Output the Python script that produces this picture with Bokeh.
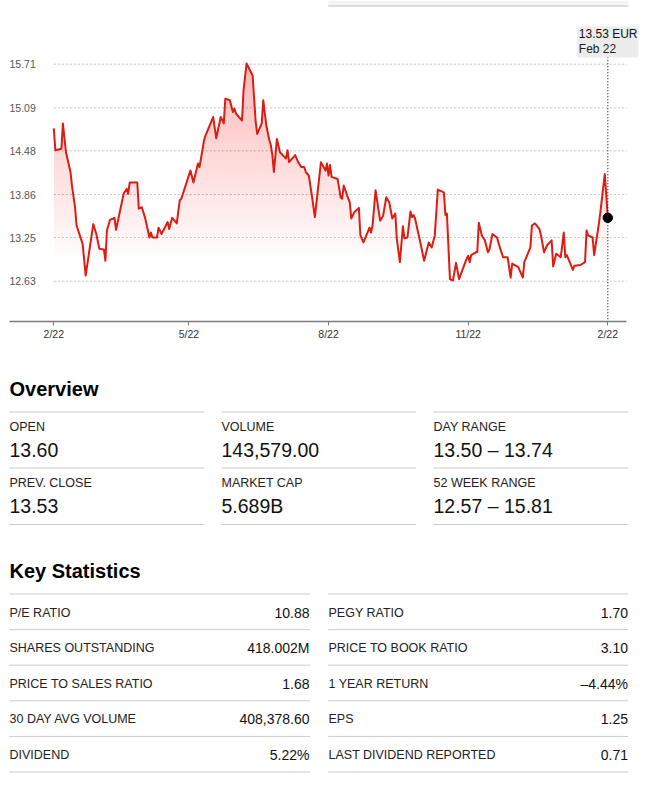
import numpy as np
import pandas as pd
from bokeh.plotting import figure
from bokeh.models import Range1d, FixedTicker
from bokeh.layouts import column
from bokeh.embed import file_html
from bokeh.resources import INLINE
from bokeh.core.properties import value

# ---------------- data ----------------
dates = [
    "2022-02-22", "2022-02-23", "2022-02-27", "2022-02-28", "2022-03-02", "2022-03-05", "2022-03-06", "2022-03-08", "2022-03-09", "2022-03-13",
    "2022-03-15", "2022-03-20", "2022-03-22", "2022-03-24", "2022-03-27", "2022-03-28", "2022-03-29", "2022-03-31", "2022-04-03", "2022-04-04",
    "2022-04-09", "2022-04-11", "2022-04-12", "2022-04-13", "2022-04-18", "2022-04-19", "2022-04-21", "2022-04-23", "2022-04-26", "2022-04-27",
    "2022-04-28", "2022-05-01", "2022-05-02", "2022-05-04", "2022-05-08", "2022-05-09", "2022-05-11", "2022-05-14", "2022-05-16", "2022-05-17",
    "2022-05-23", "2022-05-25", "2022-05-28", "2022-05-29", "2022-06-01", "2022-06-02", "2022-06-07", "2022-06-09", "2022-06-12", "2022-06-14",
    "2022-06-15", "2022-06-18", "2022-06-20", "2022-06-21", "2022-06-22", "2022-06-26", "2022-06-27", "2022-06-29", "2022-07-03", "2022-07-05",
    "2022-07-06", "2022-07-09", "2022-07-10", "2022-07-12", "2022-07-14", "2022-07-15", "2022-07-16", "2022-07-17", "2022-07-19", "2022-07-21",
    "2022-07-25", "2022-07-26", "2022-07-27", "2022-07-31", "2022-08-02", "2022-08-04", "2022-08-06", "2022-08-07", "2022-08-09", "2022-08-11",
    "2022-08-13", "2022-08-17", "2022-08-20", "2022-08-21", "2022-08-22", "2022-08-23", "2022-08-24", "2022-08-28", "2022-08-30", "2022-08-31",
    "2022-09-01", "2022-09-04", "2022-09-05", "2022-09-06", "2022-09-08", "2022-09-11", "2022-09-12", "2022-09-14", "2022-09-18", "2022-09-19",
    "2022-09-20", "2022-09-22", "2022-09-25", "2022-09-27", "2022-09-29", "2022-10-01", "2022-10-03", "2022-10-05", "2022-10-06", "2022-10-08",
    "2022-10-10", "2022-10-11", "2022-10-13", "2022-10-15", "2022-10-16", "2022-10-17", "2022-10-18", "2022-10-21", "2022-10-24", "2022-10-27",
    "2022-10-29", "2022-10-31", "2022-11-02", "2022-11-06", "2022-11-07", "2022-11-08", "2022-11-10", "2022-11-12", "2022-11-14", "2022-11-16",
    "2022-11-21", "2022-11-22", "2022-11-23", "2022-11-24", "2022-11-27", "2022-11-28", "2022-11-29", "2022-12-01", "2022-12-03", "2022-12-05",
    "2022-12-06", "2022-12-08", "2022-12-11", "2022-12-13", "2022-12-15", "2022-12-18", "2022-12-20", "2022-12-21", "2022-12-25", "2022-12-28",
    "2022-12-29", "2023-01-02", "2023-01-03", "2023-01-05", "2023-01-08", "2023-01-09", "2023-01-11", "2023-01-13", "2023-01-16", "2023-01-17",
    "2023-01-19", "2023-01-22", "2023-01-24", "2023-01-25", "2023-01-26", "2023-01-30", "2023-01-31", "2023-02-04", "2023-02-07", "2023-02-08",
    "2023-02-09", "2023-02-12", "2023-02-13", "2023-02-16", "2023-02-17", "2023-02-20", "2023-02-22",
]
prices = [
    14.80, 14.49, 14.51, 14.87, 14.46, 14.18, 13.98, 13.68, 13.42, 13.16,
    12.71, 13.44, 13.30, 13.09, 13.08, 12.92, 13.35, 13.50, 13.53, 13.36,
    13.87, 13.94, 13.87, 14.03, 14.03, 13.66, 13.68, 13.54, 13.25, 13.32,
    13.25, 13.25, 13.39, 13.30, 13.47, 13.37, 13.53, 13.45, 13.78, 13.80,
    14.20, 14.03, 14.30, 14.25, 14.63, 14.70, 14.96, 14.66, 14.96, 14.87,
    15.22, 15.20, 15.03, 15.08, 15.01, 14.91, 15.34, 15.72, 15.55, 14.89,
    14.72, 14.87, 15.20, 14.84, 14.63, 14.56, 14.42, 14.18, 14.65, 14.46,
    14.37, 14.49, 14.32, 14.42, 14.32, 14.25, 14.25, 14.18, 14.13, 13.85,
    13.54, 14.32, 14.20, 14.30, 14.13, 14.28, 14.11, 14.08, 13.82, 13.80,
    13.99, 13.80, 13.75, 13.52, 13.61, 13.67, 13.28, 13.18, 13.39, 13.32,
    13.42, 13.92, 13.49, 13.56, 13.82, 13.75, 13.52, 13.59, 13.23, 12.90,
    13.41, 13.24, 13.25, 13.62, 13.54, 13.57, 13.52, 13.23, 12.92, 13.18,
    13.11, 13.28, 13.93, 13.89, 13.57, 13.59, 12.66, 12.64, 12.89, 12.66,
    12.95, 12.99, 12.90, 13.00, 13.04, 13.04, 13.46, 13.28, 13.21, 13.04,
    13.08, 13.30, 13.25, 13.10, 12.97, 12.97, 12.68, 12.88, 12.83, 12.68,
    12.90, 13.11, 13.42, 13.45, 13.37, 13.28, 13.04, 13.14, 13.21, 12.84,
    13.02, 12.97, 13.32, 12.97, 13.00, 12.79, 12.85, 12.86, 12.90, 13.35,
    13.28, 13.25, 13.00, 13.43, 13.59, 14.15, 13.53,
]
y_ticks = [15.71, 15.09, 14.48, 13.86, 13.25, 12.63]
y_tick_labels = ["15.71", "15.09", "14.48", "13.86", "13.25", "12.63"]
x_tick_dates = ["2022-02-22", "2022-05-22", "2022-08-22", "2022-11-22", "2023-02-22"]
x_tick_labels = ["2/22", "5/22", "8/22", "11/22", "2/22"]
tip_price = "13.53 EUR"
tip_date = "Feb 22"

overview_labels = ["OPEN", "VOLUME", "DAY RANGE", "PREV. CLOSE", "MARKET CAP", "52 WEEK RANGE"]
overview_values = ["13.60", "143,579.00", "13.50 \u2013 13.74", "13.53", "5.689B", "12.57 \u2013 15.81"]

stats_left_labels = ["P/E RATIO", "SHARES OUTSTANDING", "PRICE TO SALES RATIO", "30 DAY AVG VOLUME", "DIVIDEND"]
stats_left_values = ["10.88", "418.002M", "1.68", "408,378.60", "5.22%"]
stats_right_labels = ["PEGY RATIO", "PRICE TO BOOK RATIO", "1 YEAR RETURN", "EPS", "LAST DIVIDEND REPORTED"]
stats_right_values = ["1.70", "3.10", "\u20134.44%", "1.25", "0.71"]

# ---------------- helpers ----------------
FONT = value("Liberation Sans")
W = 666
H1 = 350
FRAME_BOTTOM = 321

def to_ms(strs):
    return pd.to_datetime(strs).values.astype("datetime64[ms]").astype("int64").astype(float)

xs = to_ms(dates)
ys = np.array(prices)
tick_ms = to_ms(x_tick_dates)

# horizontal scale: first point at px 53.3, last at px 607.3
ppx = (607.3 - 53.3) / (xs[-1] - xs[0])
x_start = xs[0] - 53.3 / ppx
x_end = xs[0] + (W - 53.3) / ppx
# vertical scale: 15.71 at px 63.7, 12.63 at px 280.7
k = (280.7 - 63.7) / (y_ticks[0] - y_ticks[-1])
y_end = y_ticks[0] + 63.7 / k
y_start = y_end - FRAME_BOTTOM / k

def px_x(px):
    return x_start + px / ppx

def px_y(py):
    return y_end - py / k

# ---------------- chart ----------------
p = figure(width=W, height=H1, x_axis_type="datetime",
           x_range=Range1d(x_start, x_end), y_range=Range1d(y_start, y_end),
           y_axis_location=None, output_backend="svg", toolbar_location=None,
           min_border_left=0, min_border_right=0, min_border_top=0, min_border_bottom=H1 - FRAME_BOTTOM)
p.outline_line_color = None
p.xgrid.visible = False
p.ygrid.visible = False
p.background_fill_color = "white"
p.border_fill_color = "white"

# top clipped panel
p.quad(left=[px_x(327.7)], right=[px_x(627.7)], top=[px_y(0)], bottom=[px_y(5.5)],
       fill_color="#f5f5f5", line_color=None)
p.segment(x0=[px_x(327.7)], y0=[px_y(5.5)], x1=[px_x(627.7)], y1=[px_y(5.5)],
          line_color="#d2d2d2", line_width=1.5)

# grid lines
p.segment(x0=[xs[0]] * len(y_ticks), y0=y_ticks, x1=[px_x(626)] * len(y_ticks), y1=y_ticks,
          line_color="#c4c4c4", line_width=1, line_dash="2 2")
p.text(x=[px_x(9)] * len(y_ticks), y=y_ticks, text=y_tick_labels, text_font=FONT,
       text_font_size="10.5px", text_color="#555555", text_align="left", text_baseline="middle")

# gradient-like area under the line
levels = np.arange(12.9, ys.max() + 0.01, 0.04)
alpha_each = 1 - (1 - 0.24) ** (1.0 / len(levels))
for lv in levels:
    p.varea(x=xs, y1=np.minimum(ys, lv), y2=ys, fill_color="#dc1914", fill_alpha=alpha_each)

p.line(xs, ys, line_color="#dd1c12", line_width=2, line_join="round")

# crosshair + marker + tooltip
p.segment(x0=[xs[-1]], y0=[px_y(56.7)], x1=[xs[-1]], y1=[y_start],
          line_color="#222222", line_width=1.2, line_dash="1 2")
p.scatter(x=[xs[-1]], y=[ys[-1]], size=9.5, color="black")
p.rect(x=[xs[-1]], y=[px_y(41.5)], width=61, height=31, width_units="screen",
       height_units="screen", fill_color="#ececec", line_color=None)
p.text(x=[xs[-1]], y=[px_y(33.8)], text=[tip_price], x_offset=-29, text_font=FONT,
       text_font_size="12px", text_color="#111111", text_align="left", text_baseline="middle")
p.text(x=[xs[-1]], y=[px_y(48.8)], text=[tip_date], x_offset=-29, text_font=FONT,
       text_font_size="12px", text_color="#222222", text_align="left", text_baseline="middle")

# x axis
ax = p.xaxis[0]
ax.ticker = FixedTicker(ticks=list(tick_ms))
ax.major_label_overrides = {float(t): lab for t, lab in zip(tick_ms, x_tick_labels)}
ax.bounds = (px_x(9), px_x(626))
ax.axis_line_color = "#7a7a7a"
ax.axis_line_width = 1.5
ax.major_tick_line_color = "#7a7a7a"
ax.major_tick_out = 4
ax.major_tick_in = 0
ax.minor_tick_out = 0
ax.minor_tick_in = 0
ax.major_label_standoff = 2
ax.major_label_text_font = "Liberation Sans"
ax.major_label_text_font_size = "10.5px"
ax.major_label_text_color = "#333333"

# ---------------- stats section ----------------
H2 = 789 - H1
q = figure(width=W, height=H2, x_range=Range1d(0, W), y_range=Range1d(789, H1),
           x_axis_location=None, y_axis_location=None, output_backend="svg",
           toolbar_location=None, min_border=0)
q.outline_line_color = None
q.xgrid.visible = False
q.ygrid.visible = False

LINE = "#cccccc"

# Overview
q.text(x=[9], y=[388], text=["Overview"], text_font=FONT, text_font_size="20px",
       text_font_style="bold", text_color="#000000", text_baseline="middle")
col_x = [9, 221, 433]
col_w = 194.5
row_lines = [411.5, 467.5, 524]
for ly in row_lines:
    q.segment(x0=col_x, y0=[ly] * 3, x1=[c + col_w for c in col_x], y1=[ly] * 3,
              line_color=LINE, line_width=1)
for r in range(2):
    base = row_lines[r]
    q.text(x=col_x, y=[base + 15.2] * 3, text=overview_labels[3 * r:3 * r + 3], text_font=FONT,
           text_font_size="12.5px", text_color="#222222", text_baseline="middle")
    q.text(x=col_x, y=[base + 38.2] * 3, text=overview_values[3 * r:3 * r + 3], text_font=FONT,
           text_font_size="19.5px", text_color="#111111", text_baseline="middle")

# Key statistics
q.text(x=[9], y=[570], text=["Key Statistics"], text_font=FONT, text_font_size="20px",
       text_font_style="bold", text_color="#000000", text_baseline="middle")
ks_lines = [593.5 + 35.6 * i for i in range(6)]
q.segment(x0=[9] * 6, y0=ks_lines, x1=[309.5] * 6, y1=ks_lines, line_color=LINE, line_width=1)
q.segment(x0=[327.7] * 6, y0=ks_lines, x1=[627.7] * 6, y1=ks_lines, line_color=LINE, line_width=1)
mids = [ly + 18.5 for ly in ks_lines[:5]]
q.text(x=[9] * 5, y=mids, text=stats_left_labels, text_font=FONT, text_font_size="12.5px",
       text_color="#222222", text_baseline="middle")
q.text(x=[309] * 5, y=mids, text=stats_left_values, text_font=FONT, text_font_size="14px",
       text_color="#111111", text_baseline="middle", text_align="right")
q.text(x=[328] * 5, y=mids, text=stats_right_labels, text_font=FONT, text_font_size="12.5px",
       text_color="#222222", text_baseline="middle")
q.text(x=[627.5] * 5, y=mids, text=stats_right_values, text_font=FONT, text_font_size="14px",
       text_color="#111111", text_baseline="middle", text_align="right")

layout = column(p, q, spacing=0)
open("out.html", "w").write(file_html(layout, INLINE))
